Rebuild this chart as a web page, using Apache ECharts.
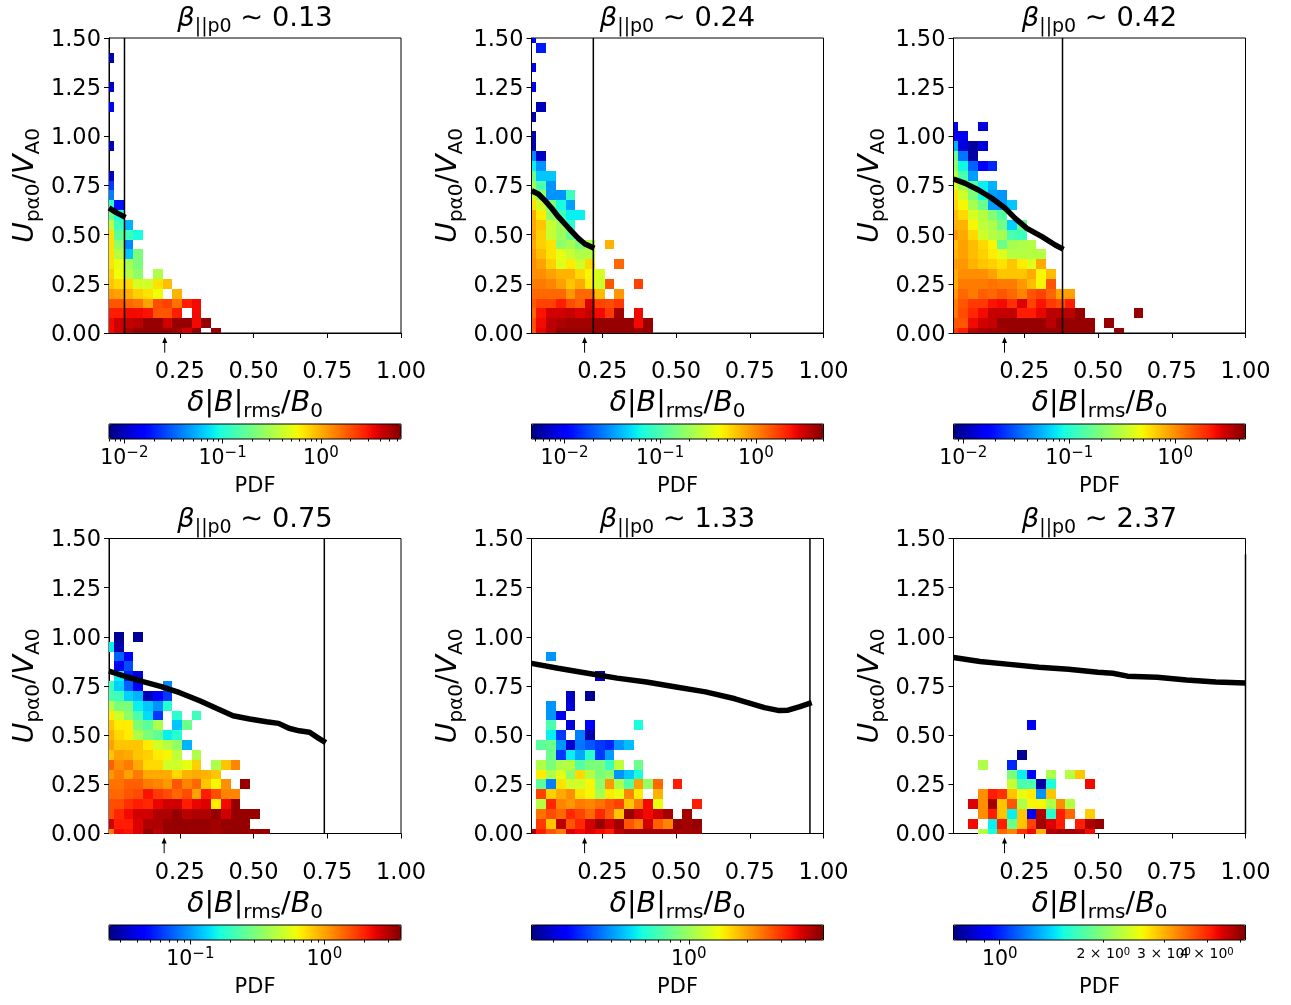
<!DOCTYPE html>
<html><head><meta charset="utf-8">
<style>html,body{margin:0;padding:0;background:#fff}#c{width:1291px;height:1005px}</style>
<script src="https://cdn.jsdelivr.net/npm/echarts@6/dist/echarts.min.js"></script>
</head><body><div id="c"></div>
<script>
const _ = null;
// Cell values are colour-bar positions (0..100 along the log PDF bar); rows run up from y=0, columns run right from the left axis.
const betaLabels = ['0.13','0.24','0.42','0.75','1.33','2.37'];
const xTicks = [0.25,0.5,0.75,1.0];
const yTicks = [0,0.25,0.5,0.75,1,1.25,1.5];
const pdfRanges = [[0.00698,6.53],[0.00452,5.08],[0.00808,4.6],[0.0247,3.73],[0.155,4.94],[0.734,5.18]];
const pdfMajor = [[0.01,0.1,1],[0.01,0.1,1],[0.01,0.1,1],[0.1,1],[1],[1]];
const pdfSmallLabels = [[],[],[],[],[],[2,3,4]];
const arrowX = [0.199,0.19,0.183,0.197,0.19,0.183];
const limitX = [0.0625,0.2196,0.3796,0.74,0.954,1.0];
const limitTop = [1.5,1.5,1.5,1.5,1.5,1.42];

const curve1 = [[0.01,0.636],[0.035,0.612],[0.066,0.588]];
const curve2 = [[0.0106,0.7237],[0.0332,0.7068],[0.0558,0.6729],[0.0785,0.634],[0.1009,0.5915],[0.1236,0.5543],[0.1463,0.517],[0.1688,0.4814],[0.1914,0.4526],[0.223,0.4305]];
const curve3 = [[0.0101,0.783],[0.0497,0.761],[0.0948,0.727],[0.1402,0.685],[0.1853,0.634],[0.2192,0.583],[0.2589,0.532],[0.3098,0.49],[0.3549,0.4475],[0.383,0.4255]];
const curve4 = [[0.01,0.826],[0.069,0.797],[0.1253,0.772],[0.1877,0.7467],[0.2498,0.716],[0.3176,0.675],[0.374,0.6364],[0.4305,0.599],[0.487,0.582],[0.544,0.5686],[0.585,0.56],[0.62,0.535],[0.655,0.522],[0.69,0.515],[0.72,0.485],[0.745,0.462]];
const curve5 = [[0.01,0.865],[0.1,0.84],[0.2,0.815],[0.3,0.79],[0.4,0.77],[0.5,0.745],[0.6,0.72],[0.7,0.685],[0.8,0.64],[0.85,0.625],[0.88,0.627],[0.92,0.645],[0.96,0.665]];
const curve6 = [[0.01,0.895],[0.1,0.875],[0.2,0.86],[0.3,0.845],[0.4,0.835],[0.5,0.82],[0.55,0.815],[0.6,0.8],[0.7,0.795],[0.8,0.78],[0.9,0.77],[1.0,0.765]];
const curves = [curve1,curve2,curve3,curve4,curve5,curve6];

const cells1 = [
[90,93,96,98,98,98,98,97,93,98,_,98],
[90,93,94,95,98,98,93,98,98,90,98],
[88,88,90,90,89,82,82,88,_,90],
[82,82,80,79,74,83,84,79,88,90],
[75,74,72,69,67,64,_,72],
[70,68,68,61,60,67,71],
[69,64,57,52,_,56],
[67,63,55,50],
[67,57,32,50],
[67,52,26],
[67,46,42,38],
[58,42,30],
[48,38],
[40,14],
[25],[18],[6],[],[],[5],[],[],[],[12],[],[6],[],[],[4]];
const cells2 = [
[82,91,95,98,98,98,98,98,98,98,98,97,98],
[83,90,95,96,97,97,97,98,98,98,98,90,98],
[80,89,93,93,94,92,94,90,85,97,_,90],
[82,84,84,88,83,81,92,84,83,85],
[80,80,80,80,75,80,80,71,_,75],
[78,78,77,74,70,73,66,60,82,_,_,84],
[76,76,74,72,72,68,65,61],
[76,74,69,62,66,60,68,_,_,80],
[75,71,67,63,59,56,57],
[73,69,67,52,55,50,57,_,72],
[74,69,59,54,48],
[73,70,59,54,40],
[73,66,53,42,36,36],
[67,60,50,38,28],
[60,52,27,27,42],
[55,44,27],
[48,32,32],
[36,27],
[26,6],
[4],[4],[],[4],[_,5],[],[10],[],[10],[],[_,15],[12]];
const cells3 = [
[85,88,95,96,97,97,98,98,98,98,98,98,98,98,98,_,_,98],
[82,82,90,93,94,98,98,98,98,98,95,98,98,98,98,_,98],
[78,83,87,90,94,94,94,88,88,91,95,95,95,98,_,_,_,_,_,98],
[78,82,85,85,89,90,86,92,84,89,85,83,88],
[75,80,78,81,80,82,80,77,82,84,80,74,74],
[73,78,78,78,79,78,78,75,71,65,82],
[73,76,76,76,74,70,70,70,73,65,71],
[75,75,72,70,69,67,70,66,62,73],
[72,74,71,69,66,62,57,57,57,57],
[71,74,71,68,65,48,55,56,57],
[75,73,68,60,57,55,44,42],
[72,72,65,58,56,49,33,48],
[71,68,61,57,51,45],
[68,65,55,48,28,28,32],
[67,60,50,38,28,27],
[62,55,45,36,30],
[58,44,28],
[52,37,22,12,16],
[48,24,3],
[30,8,3,8],
[10,10],
[10,_,_,8]];
const cells4 = [
[78,90,89,92,98,95,98,98,98,98,98,97,98,98,98,98,98],
[93,88,88,92,96,96,98,98,98,98,98,97,98,98,98],
[83,87,90,93,93,96,96,98,95,96,96,98,93,98,98,98],
[83,83,86,88,87,91,93,93,88,91,92,66,90,98],
[80,80,82,83,89,85,83,80,83,74,88,83,77,77],
[79,79,81,81,78,77,75,82,77,80,70,65,76,_,98],
[75,78,74,78,73,73,73,68,72,73,72,70],
[81,76,78,73,68,68,60,60,63,69,_,56,70,77],
[70,74,73,70,69,66,65,58,_,56],
[74,70,70,70,66,60,57,53,30],
[72,68,66,56,50,47,36,40],
[70,66,66,50,46,56,_,32,48],
[66,60,52,44,34,18,_,40,_,42],
[57,50,50,36,32,27,40],
[44,42,33,30,5,12,18],
[42,33,22,12,_,_,26],
[_,36,15,8],
[_,10,20],
[_,22,12],
[36,4],
[_,2,_,2]];
const cells5 = [
[96,88,82,78,92,90,92,90,88,95,97,97,97,97,97,97,97,97],
[_,85,70,95,82,87,93,98,93,97,82,78,93,81,77,98,97,98],
[_,79,83,80,87,84,80,87,81,70,98,93,90,93,97,_,97],
[_,57,87,77,75,78,77,79,82,84,70,78,90,63,_,_,_,88],
[_,84,69,73,76,67,65,55,66,63,77,66,_,72],
[_,46,25,67,60,60,65,52,75,56,45,74,53,80,_,88],
[_,66,56,62,52,68,57,50,52,27,32,38],
[_,56,50,56,57,45,50,50,42,58,_,48],
[_,_,48,18,36,29,40,18,28],
[_,46,48,27,7,24,21,18,16,27,31],
[_,_,36,18,_,25,4],
[_,_,44,_,8,_,12,_,_,_,_,38],
[_,_,27,10],
[_,_,27,_,8],
[_,_,_,_,6,_,2],
[],
[_,_,_,_,_,_,_,6],
[],
[_,_,27]];
const cells6 = [
[_,_,_,57,38,80,77,86,90,72,96,97,97,96,90],
[_,_,90,_,36,88,48,70,84,97,92,88,_,88,96,98],
[_,_,_,76,88,70,36,70,10,96,40,88,80,_,69],
[_,_,92,76,97,70,82,56,65,65,56,76,57],
[_,_,_,76,88,86,70,63,66,27,70],
[_,_,_,_,_,_,59,44,44,3,38,_,_,_,90],
[_,_,_,_,_,_,50,36,12,_,56,_,57,70],
[_,_,_,56,_,_,16],
[_,_,_,_,_,_,_,2],
[],[],
[_,_,_,_,_,_,_,_,10]];
const cellSets = [cells1,cells2,cells3,cells4,cells5,cells6];

const X_MIN = 0.01, X_MAX = 1.0, DX = 0.033, DY = 0.05;
const FONT = 'DejaVu Sans';

function jet(t){
  const seg=(p,t)=>{for(let i=1;i<p.length;i++){if(t<=p[i][0]){const a=p[i-1],b=p[i];return a[1]+(b[1]-a[1])*(t-a[0])/(b[0]-a[0]);}}return p[p.length-1][1];};
  const r=seg([[0,0],[.35,0],[.66,1],[.89,1],[1,.5]],t),g=seg([[0,0],[.125,0],[.375,1],[.64,1],[.91,0],[1,0]],t),b=seg([[0,.5],[.11,1],[.34,1],[.65,0],[1,0]],t);
  const h=v=>('0'+Math.round(v*255).toString(16)).slice(-2);
  return '#'+h(r)+h(g)+h(b);
}
const jetStops=[];for(let i=0;i<=50;i++)jetStops.push(jet(i/50));

const mkRich=(big,small)=>({
  i:{fontFamily:FONT,fontStyle:'italic',fontWeight:'normal',fontSize:big,color:'#000',lineHeight:36},
  n:{fontFamily:FONT,fontWeight:'normal',fontSize:big,color:'#000',lineHeight:36},
  s:{fontFamily:FONT,fontWeight:'normal',fontSize:small,color:'#000',lineHeight:36,verticalAlign:'bottom'}
});
const rich = mkRich(28.5,20);
const titleRich = mkRich(27.3,19);
const cbRich = {
  b:{fontFamily:FONT,fontSize:20.5,color:'#000',lineHeight:26},
  e:{fontFamily:FONT,fontSize:15,color:'#000',lineHeight:26,verticalAlign:'top'},
  sb:{fontFamily:FONT,fontSize:14,color:'#000',lineHeight:14},
  se:{fontFamily:FONT,fontSize:10,color:'#000',lineHeight:14,verticalAlign:'top'}
};

function heatRender(params,api){
  const x=api.value(0),y=api.value(1);
  const p0=api.coord([x-DX/2,y+DY/2]),p1=api.coord([x+DX/2,y-DY/2]);
  const cs=params.coordSys;
  const r=echarts.graphic.clipRectByRect({x:p0[0],y:p0[1],width:p1[0]-p0[0],height:p1[1]-p0[1]},{x:cs.x,y:cs.y,width:cs.width,height:cs.height});
  if(!r)return null;
  const x0=Math.round(r.x),x1=Math.round(r.x+r.width),y0=Math.round(r.y),y1=Math.round(r.y+r.height);
  return {type:'rect',shape:{x:x0,y:y0,width:x1-x0,height:y1-y0},style:{fill:api.visual('color')}};
}
function arrowRender(params,api){
  const head=api.coord([api.value(0),api.value(1)]),tail=api.coord([api.value(0),api.value(2)]);
  return {type:'group',children:[
    {type:'line',shape:{x1:tail[0],y1:tail[1],x2:head[0],y2:head[1]+3},style:{stroke:'#000',lineWidth:1}},
    {type:'polygon',shape:{points:[[head[0],head[1]],[head[0]-2.5,head[1]+6],[head[0]+2.5,head[1]+6]]},style:{fill:'#000'}}
  ]};
}

const lefts=[109,531.5,953.5], tops=[38,538.5];
const cbTops=[424,925];
const option={animation:false,backgroundColor:'#fff',title:[],grid:[],xAxis:[],yAxis:[],series:[],visualMap:[]};

betaLabels.forEach((beta,k)=>{
  const L=lefts[k%3], row=k<3?0:1, T=tops[row], CT=cbTops[row];
  const gMain=option.grid.length;
  option.grid.push({left:L,top:T,width:292,height:295,show:true,borderColor:'#000',borderWidth:1,backgroundColor:'#fff',containLabel:false});
  option.title.push({text:`{i|β}{s|||p0}{n| ∼ ${beta}}`,left:L+146,top:row?502:1,textAlign:'center',padding:0,textStyle:{rich:titleRich}});
  const xMain=option.xAxis.length;
  option.xAxis.push({gridIndex:gMain,type:'value',min:X_MIN,max:X_MAX,position:'bottom',
    splitLine:{show:false},axisLine:{show:true,onZero:false,lineStyle:{color:'#000',width:1}},
    axisTick:{show:true,length:5,customValues:xTicks,lineStyle:{color:'#000',width:1}},
    axisLabel:{show:true,customValues:xTicks,margin:28,fontFamily:FONT,fontSize:22.5,color:'#000',formatter:v=>(+v).toFixed(2)},
    name:'{i|δ}{n||}{i|B}{n||}{s|rms}{n|/}{i|B}{s|0}',nameLocation:'middle',nameGap:53,nameTextStyle:{rich:rich}});
  const yMain=option.yAxis.length;
  option.yAxis.push({gridIndex:gMain,type:'value',min:0,max:1.5,interval:0.25,
    splitLine:{show:false},axisLine:{show:true,onZero:false,lineStyle:{color:'#000',width:1}},
    axisTick:{show:true,length:5,lineStyle:{color:'#000',width:1}},
    axisLabel:{show:true,margin:8,verticalAlign:'top',lineHeight:4,fontFamily:FONT,fontSize:22.5,color:'#000',formatter:v=>(+v).toFixed(2),showMinLabel:true,showMaxLabel:true},
    name:'{i|U}{s|pα0}{n|/}{i|V}{s|A0}',nameLocation:'middle',nameGap:65,nameRotate:90,nameTextStyle:{rich:rich}});
  const heat=[];
  cellSets[k].forEach((cols,r)=>cols.forEach((v,c)=>{if(v!==null)heat.push([X_MIN+c*DX,r*DY,v]);}));
  const heatIdx=option.series.length;
  option.series.push({type:'custom',name:'PDF '+beta,xAxisIndex:xMain,yAxisIndex:yMain,renderItem:heatRender,dimensions:['x','y','level'],encode:{x:0,y:1},data:heat,z:1,silent:true});
  option.series.push({type:'line',xAxisIndex:xMain,yAxisIndex:yMain,data:[[limitX[k],0],[limitX[k],limitTop[k]]],symbol:'none',lineStyle:{color:'#000',width:1.5},z:3,silent:true});
  option.series.push({type:'line',xAxisIndex:xMain,yAxisIndex:yMain,data:curves[k],symbol:'none',smooth:false,lineStyle:{color:'#000',width:5.5},z:4,silent:true});
  option.series.push({type:'custom',xAxisIndex:xMain,yAxisIndex:yMain,renderItem:arrowRender,encode:{x:0,y:1},data:[[arrowX[k],-0.02,-0.1]],z:5,silent:true});

  // colour bar
  const gBar=option.grid.length;
  option.grid.push({left:L,top:CT,width:292,height:15,show:true,borderColor:'#000',borderWidth:1,backgroundColor:'transparent',z:10});
  const [vmin,vmax]=pdfRanges[k];
  const minors=[];
  for(let e=-3;e<=1;e++)for(let m=1;m<10;m++){const v=+(m+'e'+e);if(v>=vmin&&v<=vmax&&m!==1)minors.push(v);}
  const small=pdfSmallLabels[k];
  // an empty trailing label keeps the axis from dropping one of the overlapping labels
  const labels=pdfMajor[k].concat(small, small.length?[5]:[]);
  option.xAxis.push({gridIndex:gBar,type:'log',logBase:10,min:vmin,max:vmax,position:'bottom',
    splitLine:{show:false},axisLine:{show:false},
    axisTick:{show:true,length:2.5,customValues:minors,lineStyle:{color:'#000',width:1}},axisLabel:{show:false}});
  option.xAxis.push({gridIndex:gBar,type:'log',logBase:10,min:vmin,max:vmax,position:'bottom',
    splitLine:{show:false},axisLine:{show:false},
    axisTick:{show:true,length:4.5,customValues:pdfMajor[k],lineStyle:{color:'#000',width:1}},
    axisLabel:{show:true,customValues:labels,margin:7,rich:cbRich,hideOverlap:false,
      formatter:v=>{const n=+v,e=Math.round(Math.log10(n));
        if(Math.abs(Math.log10(n)-e)<1e-6)return `{b|10}{e|${e<0?'−'+(-e):e}}`;
        if(!small.includes(Math.round(n)))return '';
        return `{sb|${Math.round(n)} × 10}{se|0}`;}},
    name:'PDF',nameLocation:'middle',nameGap:37,nameTextStyle:{fontFamily:FONT,fontSize:21,color:'#000'}});
  option.yAxis.push({gridIndex:gBar,type:'value',min:0,max:1,show:false});
  option.visualMap.push({type:'continuous',seriesIndex:heatIdx,dimension:2,min:0,max:100,orient:'horizontal',
    left:L,top:CT,itemWidth:15,itemHeight:292,padding:0,calculable:false,hoverLink:false,text:null,showLabel:false,
    inRange:{color:jetStops},z:4});
});
const chart=echarts.init(document.getElementById('c'),null,{renderer:'canvas'});
chart.setOption(option);
</script></body></html>
